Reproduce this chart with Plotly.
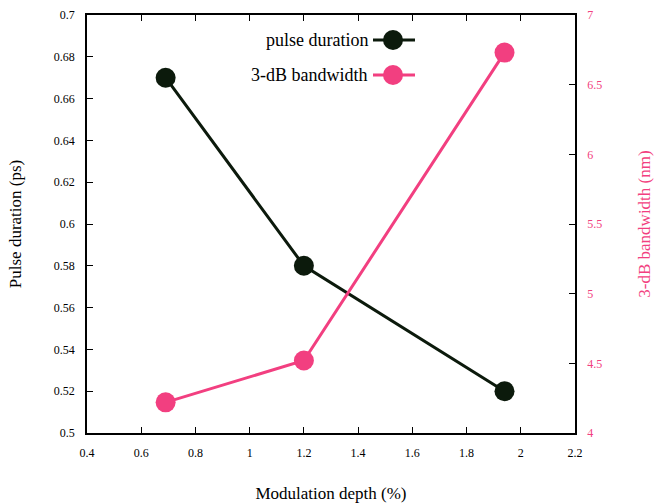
import plotly.graph_objects as go

depth = [0.69, 1.2, 1.94]
pulse = [0.67, 0.58, 0.52]
bandwidth = [4.22, 4.52, 6.73]

dark = "#0c1a0c"
pink = "#f23f80"
font = "Liberation Serif"

fig = go.Figure()
fig.add_trace(go.Scatter(x=depth, y=pulse, mode="lines+markers", name="pulse duration",
                         line=dict(color=dark, width=3), marker=dict(size=20, color=dark),
                         yaxis="y", showlegend=False))
fig.add_trace(go.Scatter(x=depth, y=bandwidth, mode="lines+markers", name="3-dB bandwidth",
                         line=dict(color=pink, width=3), marker=dict(size=20, color=pink),
                         yaxis="y2", showlegend=False))

axis_common = dict(showline=True, linecolor="black", linewidth=1.5, ticks="inside",
                   ticklen=6, tickcolor="black", showgrid=False, zeroline=False,
                   automargin=False, ticklabelstandoff=8)

fig.update_layout(
    width=654, height=503,
    margin=dict(l=87, r=79, t=15, b=70),
    plot_bgcolor="white", paper_bgcolor="white",
    font=dict(family=font, size=12, color="black"),
    xaxis=dict(range=[0.4, 2.2], dtick=0.2, mirror="ticks",
               tickfont=dict(family=font, size=12, color="black"),
               title=dict(text="Modulation depth (%)", font=dict(family=font, size=17), standoff=34),
               **axis_common),
    yaxis=dict(range=[0.5, 0.7], dtick=0.02, tickformat="~g",
               tickfont=dict(family=font, size=12, color="black"),
               title=dict(text="Pulse duration (ps)", font=dict(family=font, size=17), standoff=28),
               **axis_common),
    yaxis2=dict(range=[4, 7], dtick=0.5, overlaying="y", side="right",
                tickfont=dict(family=font, size=12, color=pink),
                title=dict(text="3-dB bandwidth (nm)", font=dict(family=font, size=17, color=pink), standoff=42),
                **axis_common),
)

# legend drawn to mimic gnuplot style (text then sample on the right)
legend_items = [("pulse duration", dark, 40), ("3-dB bandwidth", pink, 75)]
H = 503 - 15 - 70
W = 654 - 87 - 79
for label, col, ypix in legend_items:
    yp = 1 - (ypix - 15) / H
    x_text = (370 - 87) / W
    x0 = (373 - 87) / W
    x1 = (415 - 87) / W
    xc = (393 - 87) / W
    fig.add_annotation(xref="paper", yref="paper", x=x_text, y=yp, text=label,
                       showarrow=False, xanchor="right", yanchor="middle",
                       font=dict(family=font, size=18, color="black"))
    fig.add_shape(type="line", xref="paper", yref="paper", x0=x0, x1=x1, y0=yp, y1=yp,
                  line=dict(color=col, width=3))
    rx = 10 / W
    ry = 10 / H
    fig.add_shape(type="circle", xref="paper", yref="paper",
                  x0=xc - rx, x1=xc + rx, y0=yp - ry, y1=yp + ry,
                  fillcolor=col, line=dict(color=col, width=0))

fig.write_html("out.html")
